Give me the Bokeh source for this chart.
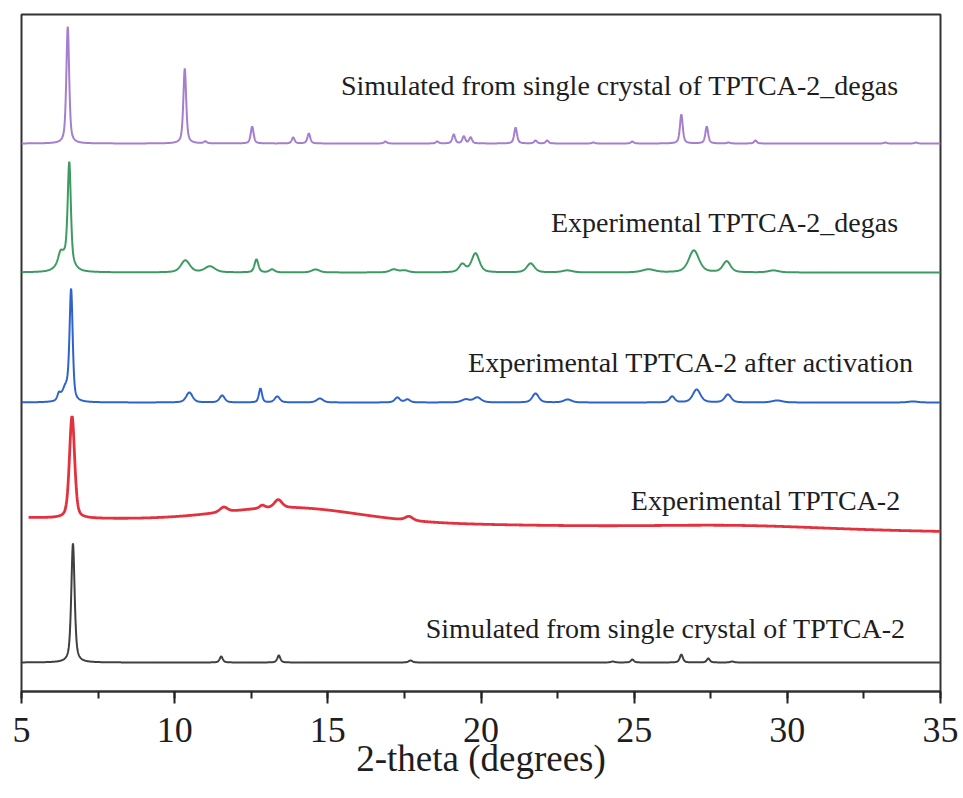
import numpy as np
from bokeh.plotting import figure
from bokeh.models import Range1d, SingleIntervalTicker
from bokeh.core.properties import value
from bokeh.embed import file_html
from bokeh.resources import INLINE

# ---------------- data (peak lists) ----------------
# Simulated from single crystal of TPTCA-2_degas (purple)
sim_degas_pos = [6.51, 10.33, 11.0, 12.53, 13.87, 14.38, 16.88, 18.57, 19.11, 19.44, 19.66,
                 21.13, 21.78, 22.16, 23.67, 24.94, 26.54, 27.37, 28.08, 28.96, 33.2, 34.2]
sim_degas_h = [117, 75, 2, 17, 6, 10, 2, 2, 9, 7, 6,
               16, 3, 3, 1, 2, 29, 17, 1, 3, 1, 1]
sim_degas_w = [0.11] * len(sim_degas_pos)

# Experimental TPTCA-2_degas (green)
exp_degas_pos = [6.27, 6.42, 6.56, 10.35, 11.15, 12.67, 13.18, 14.6, 17.15, 17.5, 19.39, 19.82,
                 21.62, 22.82, 25.47, 26.95, 28.02, 29.55]
exp_degas_h = [8, 16, 98, 12, 6, 13, 3, 3, 3, 2, 8, 19, 9, 2, 3, 22, 11, 2]
exp_degas_w = [0.16, 0.5, 0.12, 0.35, 0.4, 0.15, 0.2, 0.3, 0.3, 0.3, 0.25, 0.3,
               0.3, 0.4, 0.5, 0.4, 0.3, 0.4]

# Experimental TPTCA-2 after activation (blue)
exp_act_pos = [6.22, 6.45, 6.62, 10.48, 11.55, 12.8, 13.35, 14.74, 17.27, 17.6, 19.5, 19.88,
               21.78, 22.83, 26.24, 27.04, 28.06, 29.67, 34.1]
exp_act_h = [6, 14, 108, 10, 7, 14, 6, 4, 5, 3, 3, 5, 9, 3, 6, 13, 8, 2, 1]
exp_act_w = [0.12, 0.3, 0.12, 0.25, 0.2, 0.12, 0.2, 0.25, 0.2, 0.2, 0.3, 0.3,
             0.25, 0.3, 0.2, 0.3, 0.25, 0.4, 0.4]

# Experimental TPTCA-2 (red) : sharp peaks + broad amorphous humps + drifting baseline
exp_pos = [6.65, 11.6, 12.86, 13.38, 17.65]
exp_h = [102, 5, 3, 8, 4]
exp_w = [0.2, 0.3, 0.2, 0.3, 0.3]
exp_hump_pos = [13.8, 28.5]
exp_hump_h = [14, 3]
exp_hump_w = [5.2, 6.0]
exp_baseline_ends = [0, -14]      # baseline drift at 5 and 35 degrees
exp_start = 5.22

# Simulated from single crystal of TPTCA-2 (black)
sim_pos = [6.68, 11.52, 13.4, 17.7, 24.3, 24.94, 26.54, 27.42, 28.2]
sim_h = [119, 6, 7, 2, 1, 3, 8, 4, 1]
sim_w = [0.13, 0.12, 0.12, 0.15, 0.15, 0.12, 0.12, 0.12, 0.15]

labels = ["Simulated from single crystal of TPTCA-2_degas",
          "Experimental TPTCA-2_degas",
          "Experimental TPTCA-2 after activation",
          "Experimental TPTCA-2",
          "Simulated from single crystal of TPTCA-2"]

# ---------------- layout / style ----------------
offsets = [548, 419, 289, 174, 29]
colors = ["#A57FCE", "#3C9A62", "#2F63CC", "#E3323E", "#404040"]
label_x = [33.63, 33.63, 34.12, 33.70, 33.86]
label_y = [606, 469, 329, 191, 63]


def pseudo_voigt(x, pos, h, w, eta):
    y = np.zeros_like(x)
    for p0, h0, w0 in zip(pos, h, w):
        d = (x - p0) / w0
        lor = 1.0 / (1.0 + 4.0 * d * d)
        gau = np.exp(-4.0 * np.log(2.0) * d * d)
        y += h0 * (eta * lor + (1 - eta) * gau)
    return y


xg = np.arange(5.0, 35.0001, 0.01)

y_purple = offsets[0] + pseudo_voigt(xg, sim_degas_pos, sim_degas_h, sim_degas_w, 0.6)
y_green = offsets[1] + pseudo_voigt(xg, exp_degas_pos, exp_degas_h, exp_degas_w, 0.5)
y_blue = offsets[2] + pseudo_voigt(xg, exp_act_pos, exp_act_h, exp_act_w, 0.5)

xr = xg[xg >= exp_start]
drift = exp_baseline_ends[0] + (exp_baseline_ends[1] - exp_baseline_ends[0]) * (xr - 5.0) / 30.0
y_red = (offsets[3] + drift
         + pseudo_voigt(xr, exp_pos, exp_h, exp_w, 0.4)
         + pseudo_voigt(xr, exp_hump_pos, exp_hump_h, exp_hump_w, 0.0))
y_black = offsets[4] + pseudo_voigt(xg, sim_pos, sim_h, sim_w, 0.6)

p = figure(width=963, height=798, x_range=Range1d(5, 35), y_range=Range1d(0, 677),
           output_backend="svg", toolbar_location=None,
           min_border_left=21, min_border_right=23, min_border_top=14, min_border_bottom=107)

p.line(xg, y_purple, line_color=colors[0], line_width=2)
p.line(xg, y_green, line_color=colors[1], line_width=2)
p.line(xg, y_blue, line_color=colors[2], line_width=2)
p.line(xr, y_red, line_color=colors[3], line_width=2.8)
p.line(xg, y_black, line_color=colors[4], line_width=2)

p.text(x=label_x, y=label_y, text=labels, text_align="right", text_baseline="middle",
       text_font=value("Liberation Serif"), text_font_size="28px", text_color="#1e1e1e")

p.grid.visible = False
p.yaxis.visible = False
p.outline_line_color = "#333333"
p.outline_line_width = 2
p.background_fill_color = "white"
p.border_fill_color = "white"

ax = p.xaxis[0]
ax.ticker = SingleIntervalTicker(interval=5, num_minor_ticks=2)
ax.axis_label = "2-theta (degrees)"
ax.axis_label_text_font = "Liberation Serif"
ax.axis_label_text_font_size = "37px"
ax.axis_label_text_font_style = "normal"
ax.axis_label_text_color = "#1e1e1e"
ax.axis_label_standoff = -7
ax.major_label_text_font = "Liberation Serif"
ax.major_label_text_font_size = "36px"
ax.major_label_text_color = "#1e1e1e"
ax.major_label_standoff = 14
ax.axis_line_color = "#333333"
ax.axis_line_width = 2
ax.major_tick_line_color = "#222222"
ax.major_tick_line_width = 2
ax.major_tick_in = 0
ax.major_tick_out = 12
ax.minor_tick_line_color = "#222222"
ax.minor_tick_line_width = 2
ax.minor_tick_in = 0
ax.minor_tick_out = 7

open("out.html", "w").write(file_html(p, INLINE))
